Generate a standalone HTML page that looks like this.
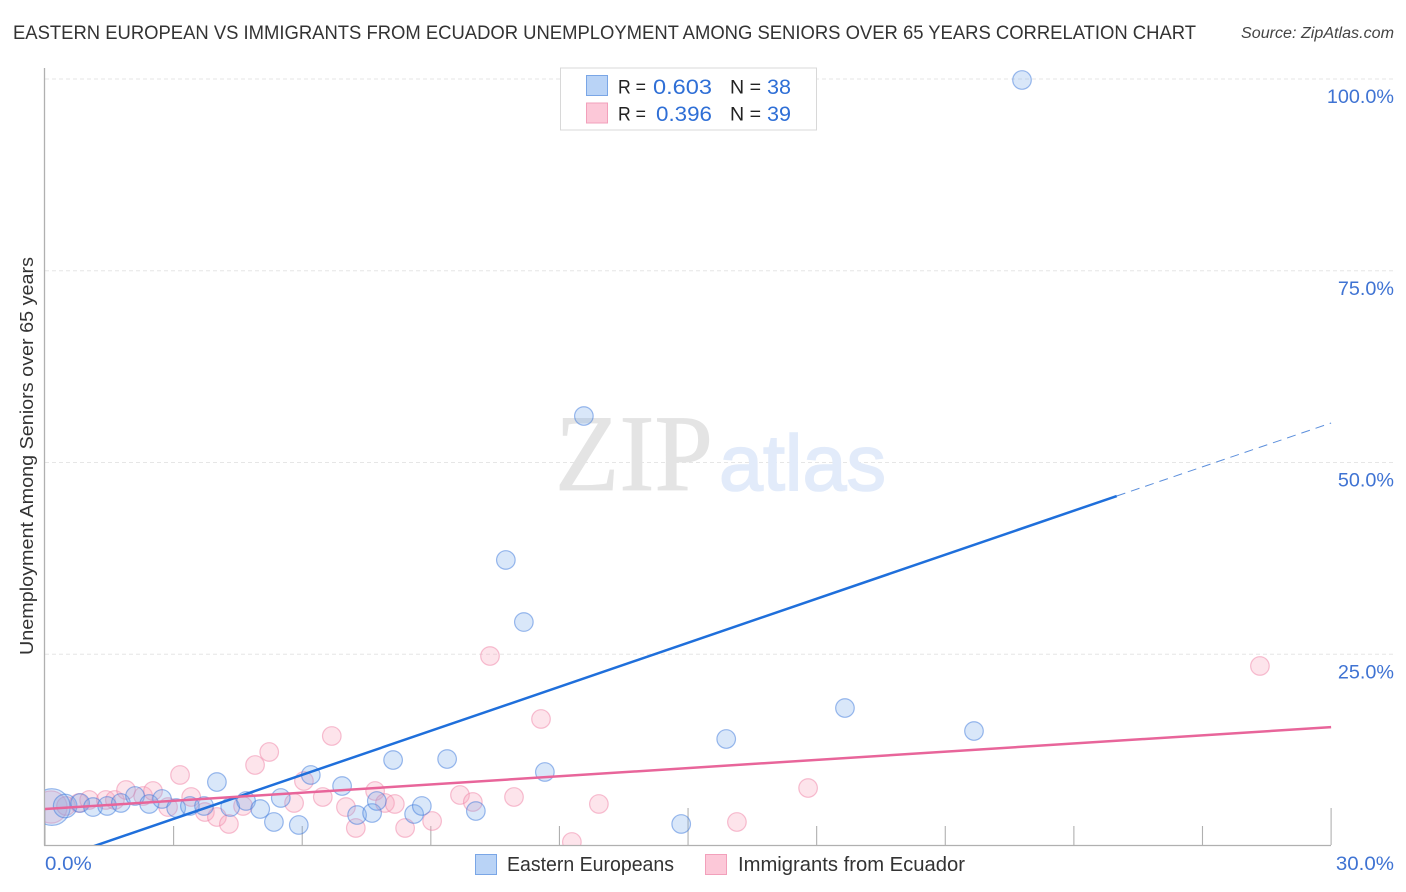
<!DOCTYPE html>
<html lang="en">
<head>
<meta charset="utf-8">
<title>Eastern European vs Immigrants from Ecuador Correlation Chart</title>
<style>
html,body{margin:0;padding:0;background:#fff;width:1406px;height:892px;overflow:hidden}
svg{display:block;font-family:"Liberation Sans",sans-serif}
</style>
</head>
<body>
<svg id="chart" width="1406" height="892" viewBox="0 0 1406 892" xmlns="http://www.w3.org/2000/svg">
  <defs>
    <clipPath id="plot-clip"><rect x="45" y="60" width="1300" height="785"/></clipPath>
  </defs>
  <rect x="0" y="0" width="1406" height="892" fill="#fff"/>
  <text x="13" y="39" font-size="19.5" fill="#333" textLength="1183" lengthAdjust="spacingAndGlyphs">EASTERN EUROPEAN VS IMMIGRANTS FROM ECUADOR UNEMPLOYMENT AMONG SENIORS OVER 65 YEARS CORRELATION CHART</text>
  <text x="1241" y="38" font-size="15.5" font-style="italic" fill="#444" textLength="153" lengthAdjust="spacingAndGlyphs">Source: ZipAtlas.com</text>
  <text transform="translate(33,655) rotate(-90)" font-size="18.5" fill="#333" textLength="398" lengthAdjust="spacingAndGlyphs">Unemployment Among Seniors over 65 years</text>

  <g id="grid"></g>

  <g>
    <text x="555" y="490" font-family="Liberation Serif, serif" font-size="109" fill="#e4e4e4" stroke="#e4e4e4" stroke-width="0.8" textLength="158" lengthAdjust="spacingAndGlyphs">ZIP</text>
    <text x="719" y="490" font-size="79" fill="#e2ebfa" stroke="#e2ebfa" stroke-width="1.6" textLength="167" lengthAdjust="spacingAndGlyphs">atlas</text>
  </g>

  <g id="axes">
    <line x1="44.5" y1="68" x2="44.5" y2="845.5" stroke="#b0b0b0" stroke-width="1.3"/>
    <line x1="44" y1="845.5" x2="1331" y2="845.5" stroke="#b0b0b0" stroke-width="1.3"/>
  </g>

  <g id="points" clip-path="url(#plot-clip)"></g>
  <g id="trends" clip-path="url(#plot-clip)"></g>
  <g id="tick-labels"></g>

  <g>
    <rect x="560.5" y="68" width="256" height="62" fill="#fff" stroke="#d8d8d8" stroke-width="1"/>
    <rect x="586.5" y="75.5" width="21" height="20" fill="#b9d3f6" stroke="#7aa6e6" stroke-width="1"/>
    <rect x="586.5" y="103" width="21" height="20" fill="#fcc8d8" stroke="#f2a0bb" stroke-width="1"/>
    <text x="618" y="93.5" font-size="19.5" fill="#222" textLength="28" lengthAdjust="spacingAndGlyphs">R =</text>
    <text x="653" y="94" font-size="21.5" fill="#2f6fd6" textLength="59" lengthAdjust="spacingAndGlyphs">0.603</text>
    <text x="730" y="93.5" font-size="19.5" fill="#222" textLength="31" lengthAdjust="spacingAndGlyphs">N =</text>
    <text x="767" y="94" font-size="21.5" fill="#2f6fd6" textLength="24" lengthAdjust="spacingAndGlyphs">38</text>
    <text x="618" y="120.5" font-size="19.5" fill="#222" textLength="28" lengthAdjust="spacingAndGlyphs">R =</text>
    <text x="656" y="121" font-size="21.5" fill="#2f6fd6" textLength="56" lengthAdjust="spacingAndGlyphs">0.396</text>
    <text x="730" y="120.5" font-size="19.5" fill="#222" textLength="31" lengthAdjust="spacingAndGlyphs">N =</text>
    <text x="767" y="121" font-size="21.5" fill="#2f6fd6" textLength="24" lengthAdjust="spacingAndGlyphs">39</text>
  </g>

  <g>
    <rect x="475.5" y="854.5" width="21" height="20" fill="#b9d3f6" stroke="#7aa6e6" stroke-width="1"/>
    <text x="507" y="871" font-size="20" fill="#333" textLength="167" lengthAdjust="spacingAndGlyphs">Eastern Europeans</text>
    <rect x="705.5" y="854.5" width="21" height="20" fill="#fcc8d8" stroke="#f2a0bb" stroke-width="1"/>
    <text x="738" y="871" font-size="20" fill="#333" textLength="227" lengthAdjust="spacingAndGlyphs">Immigrants from Ecuador</text>
  </g>
</svg>

<script>
const xTickValues = [0, 3, 6, 9, 12, 15, 18, 21, 24, 27, 30];
const xTickLabels = ["0.0%", "30.0%"];
const xLabelValues = [0, 30];
const yTickValues = [25, 50, 75, 100];
const yTickLabels = ["25.0%", "50.0%", "75.0%", "100.0%"];

const blueX = [0.16,0.47,0.82,1.12,1.45,1.77,2.10,2.43,2.73,3.06,3.38,3.71,4.01,4.32,4.69,5.02,5.34,5.50,5.92,6.20,6.93,7.28,7.63,7.74,8.12,8.61,8.79,9.38,10.05,11.66,14.84,15.89,18.66,21.67,22.79,12.57,10.75,11.17];
const blueY = [5.08,5.22,5.61,5.08,5.22,5.61,6.52,5.48,6.13,4.95,5.22,5.22,8.34,5.08,5.87,4.82,3.13,6.26,2.74,9.26,7.82,4.04,4.30,5.87,11.21,4.17,5.22,11.34,4.56,9.65,2.87,13.95,17.99,14.99,99.87,56.06,37.29,29.2];
const blueWeight = [3.9,1.6,1,1,1,1,1,1,1,1,1,1,1,1,1,1,1,1,1,1,1,1,1,1,1,1,1,1,1,1,1,1,1,1,1,1,1,1];

const pinkX = [0.14,0.49,0.79,1.03,1.42,1.63,1.89,2.29,2.52,3.15,2.87,3.41,3.73,4.01,4.29,4.62,4.90,5.23,5.81,6.04,6.48,6.69,7.02,7.25,7.70,7.93,8.16,8.40,9.03,9.68,9.98,10.38,10.94,11.57,12.92,12.29,16.14,17.80,28.34];
const pinkY = [5.08,5.22,5.61,6.00,6.00,6.00,7.30,6.52,7.17,9.26,5.08,6.39,4.43,3.78,2.87,5.22,10.56,12.26,5.61,8.47,6.39,14.34,5.08,2.35,7.17,5.61,5.48,2.35,3.26,6.65,5.74,24.77,6.39,16.56,5.48,0.52,3.13,7.56,23.47];
const pinkWeight = [3,1,1,1,1,1,1,1,1,1,1,1,1,1,1,1,1,1,1,1,1,1,1,1,1,1,1,1,1,1,1,1,1,1,1,1,1,1,1];

const blueTrendX = [0, 25, 30];
const blueTrendY = [-2.2, 45.63, 55.15];
const pinkTrendX = [0, 30];
const pinkTrendY = [4.82, 15.5];

const NS = "http://www.w3.org/2000/svg";
function xScale(v) { return 45 + v * 42.87; }
function yScale(v) { return 846 - v * 7.67; }
function rScale(w) { return 9.3 * Math.sqrt(w); }
function make(tag, attrs, parent) {
  const el = document.createElementNS(NS, tag);
  for (const k in attrs) el.setAttribute(k, attrs[k]);
  parent.appendChild(el);
  return el;
}
function widen(t, factor) {
  t.setAttribute("textLength", (t.getComputedTextLength() * factor).toFixed(1));
  t.setAttribute("lengthAdjust", "spacingAndGlyphs");
}

const grid = document.getElementById("grid");
const axes = document.getElementById("axes");
const points = document.getElementById("points");
const trends = document.getElementById("trends");
const labels = document.getElementById("tick-labels");

yTickValues.forEach(function (v, i) {
  const gl = make("line", { x1: 45, x2: 1394, y1: yScale(v), y2: yScale(v), stroke: "#e6e6e6", "stroke-width": 1, "stroke-dasharray": "4 3" }, grid);
  
  
  const t = make("text", { x: 1394, y: yScale(v) + 24, "text-anchor": "end", "font-size": 19.5, fill: "#3f73d3" }, labels);
  
  
  t.textContent = yTickLabels[i];
  widen(t, 1.015);
});

xTickValues.forEach(function (v) {
  const major = v % 15 === 0;
  const tk = make("line", { x1: xScale(v), x2: xScale(v), y1: major ? 808 : 826, y2: 845, stroke: "#b0b0b0", "stroke-width": 1.1 }, axes);
  
  
});

xLabelValues.forEach(function (v, i) {
  const t = make("text", { x: i === 0 ? xScale(v) : 1394, y: 870, "text-anchor": i === 0 ? "start" : "end", "font-size": 19.5, fill: "#3f73d3" }, labels);
  
  
  t.textContent = xTickLabels[i];
  widen(t, 1.05);
});

pinkX.forEach(function (v, i) {
  const c = make("circle", { cx: xScale(v), cy: yScale(pinkY[i]), r: rScale(pinkWeight[i]), fill: "rgba(250,165,190,0.3)", stroke: "rgba(240,130,165,0.5)", "stroke-width": 1.2 }, points);
  
  
});

blueX.forEach(function (v, i) {
  const c = make("circle", { cx: xScale(v), cy: yScale(blueY[i]), r: rScale(blueWeight[i]), fill: "rgba(120,170,235,0.28)", stroke: "rgba(60,120,220,0.5)", "stroke-width": 1.2 }, points);
  
  
});

const blueSolid = make("line", { x1: xScale(blueTrendX[0]), y1: yScale(blueTrendY[0]), x2: xScale(blueTrendX[1]), y2: yScale(blueTrendY[1]), stroke: "#1f6fdb", "stroke-width": 2.5 }, trends);



const blueDash = make("line", { x1: xScale(blueTrendX[1]), y1: yScale(blueTrendY[1]), x2: xScale(blueTrendX[2]), y2: yScale(blueTrendY[2]), stroke: "#5c8fdc", "stroke-width": 1, "stroke-dasharray": "9 6" }, trends);



const pinkLine = make("line", { x1: xScale(pinkTrendX[0]), y1: yScale(pinkTrendY[0]), x2: xScale(pinkTrendX[1]), y2: yScale(pinkTrendY[1]), stroke: "#e8659a", "stroke-width": 2.5 }, trends);


</script>
</body>
</html>
